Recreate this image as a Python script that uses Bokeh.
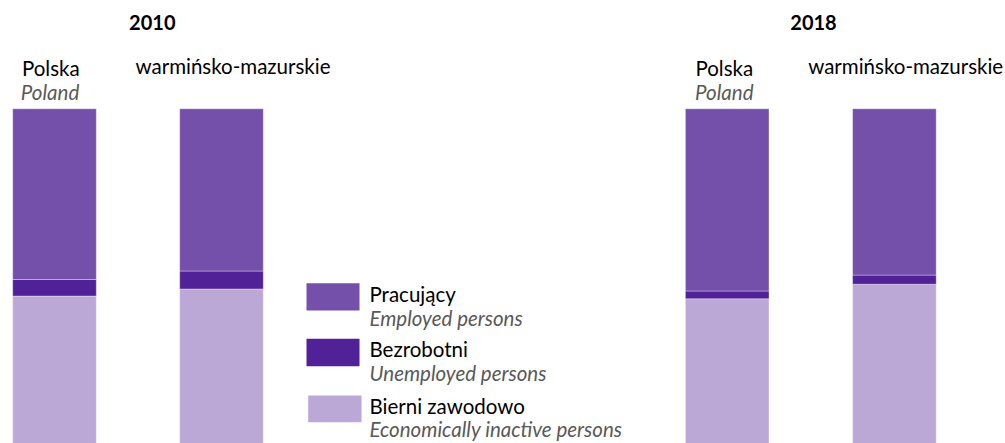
from bokeh.plotting import figure
from bokeh.models import ColumnDataSource
from bokeh.core.properties import value
from bokeh.embed import file_html
from bokeh.resources import INLINE

# ---- data ----
groups = ["2010", "2018"]
regions = ["Polska", "warmińsko-mazurskie"]
regions_en = ["Poland", ""]
bars = ["Polska 2010", "warmińsko-mazurskie 2010", "Polska 2018", "warmińsko-mazurskie 2018"]
employed = [50.5, 48.0, 53.9, 49.2]
unemployed = [4.9, 5.3, 2.3, 2.7]
inactive = [44.6, 46.7, 43.8, 48.1]
legend_pl = ["Pracujący", "Bezrobotni", "Bierni zawodowo"]
legend_en = ["Employed persons", "Unemployed persons", "Economically inactive persons"]

# ---- styles ----
C_EMP = "#7450AB"
C_UNE = "#512197"
C_INA = "#BBA8D6"
FONT = "Lato"
GRAY = "#595959"
FS = "20.5px"

W, H = 1005, 443
SCALE = 3.38      # px per percent
TOP_PX = 108.3    # px position of 100 %
DY = 7.0          # text baseline correction


def X(px):
    return px


def Y(py):
    return 100 + (TOP_PX - py) / SCALE


def TY(py):
    return Y(py - DY)


p = figure(width=W, height=H, output_backend="svg", toolbar_location=None,
           x_range=(0, W), y_range=(Y(H), Y(0)),
           min_border=0, outline_line_color=None)
p.axis.visible = False
p.grid.visible = False
p.background_fill_color = "white"
p.border_fill_color = "white"

centers = [X(54.0), X(221.0), X(726.7), X(893.9)]
src = ColumnDataSource(dict(x=centers, inactive=inactive, unemployed=unemployed, employed=employed))
p.vbar_stack(["inactive", "unemployed", "employed"], x="x", width=83.6, source=src,
             color=[C_INA, C_UNE, C_EMP], line_color="white", line_alpha=0.35, line_width=1)

# group titles
p.text(x=[X(151.8), X(813.0)], y=[TY(29.3)] * 2, text=groups, text_font=value(FONT),
       text_font_style="bold", text_font_size="20px", text_align="center",
       text_baseline="alphabetic", text_color="black")

# region labels
p.text(x=[X(50.3), X(723.8)], y=[TY(74.0)] * 2, text=[regions[0]] * 2, text_font=value(FONT),
       text_font_size=FS, text_align="center", text_baseline="alphabetic", text_color="black")
p.text(x=[X(49.5), X(723.8)], y=[TY(98.8)] * 2, text=[regions_en[0]] * 2, text_font=value(FONT),
       text_font_style="italic", text_font_size=FS, text_align="center",
       text_baseline="alphabetic", text_color=GRAY)
p.text(x=[X(135.0), X(807.7)], y=[TY(72.4)] * 2, text=[regions[1]] * 2, text_font=value(FONT),
       text_font_size=FS, text_align="left", text_baseline="alphabetic", text_color="black")

# legend
sq_left = [X(306), X(306), X(307.7)]
sq_right = [X(359), X(359), X(361)]
sq_top = [Y(282.7), Y(338.3), Y(395.0)]
sq_bot = [Y(310.0), Y(365.7), Y(421.7)]
p.quad(left=sq_left, right=sq_right, top=sq_top, bottom=sq_bot,
       fill_color=[C_EMP, C_UNE, C_INA], line_color=None)
p.text(x=[X(369.0)] * 3, y=[TY(300.7), TY(355.7), TY(412.3)], text=legend_pl, text_font=value(FONT),
       text_font_size=FS, text_baseline="alphabetic", text_color="black")
p.text(x=[X(369.0)] * 3, y=[TY(324.0), TY(379.0), TY(435.7)], text=legend_en, text_font=value(FONT),
       text_font_style="italic", text_font_size=FS, text_baseline="alphabetic", text_color=GRAY)

open("out.html", "w").write(file_html(p, INLINE))
